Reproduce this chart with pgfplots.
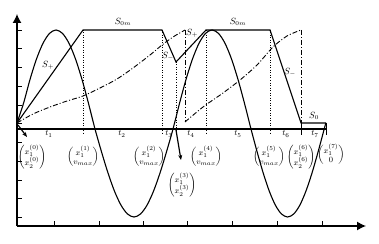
\documentclass[border=0pt]{standalone}
\usepackage{amsmath}
\usepackage{pgfplots}
\pgfplotsset{compat=1.18}
\usetikzlibrary{arrows.meta}
\tikzset{
  dd/.style={black, line width=0.9pt, dash pattern=on 5pt off 2pt on 1pt off 2pt},
  dt/.style={black, line width=1pt, dash pattern=on 1pt off 1.5pt},
  sl/.style={black, line width=1.1pt},
  every node/.style={inner sep=0.5pt},
}
\newcommand{\mat}[2]{\footnotesize$\setlength{\arraycolsep}{0.5pt}\begin{pmatrix}#1\\#2\end{pmatrix}$}
\begin{document}
\begin{tikzpicture}
\begin{axis}[width=379pt, height=243pt, scale only axis,
  xmin=0, xmax=379, ymin=0, ymax=243, y dir=reverse,
  hide axis, clip=false]
\addplot[draw=none] coordinates {(0,0) (379,243)};
% axes
\addplot[black, line width=1.2pt, -{Latex[length=9pt,width=9pt]}] coordinates {(17,226) (17,14)};
\addplot[black, line width=1.2pt, -{Latex[length=9pt,width=9pt]}] coordinates {(17,226) (366,226)};
\addplot[black, line width=1.1pt] coordinates {(17,129) (327,129)};
% y ticks
\foreach \yy in {30,48.75,67.5,86.25,105,123.75,142.5,161.25,180,198.75,217.5} {
  \edef\tmp{\noexpand\addplot[black, line width=0.9pt] coordinates {(17,\yy) (22,\yy)};}\tmp
}
% x ticks
\foreach \xx in {54,99,143,187,232,277,322} {
  \edef\tmp{\noexpand\addplot[black, line width=0.9pt] coordinates {(\xx,226) (\xx,221)};}\tmp
}
% trajectory S+, S0m, S-, S0
\addplot[sl] coordinates {(17,123) (83,30) (162,30) (176,62) (206,30) (270,30) (301,123) (326,123)};
% sine-like solid curve
\addplot[sl, smooth] coordinates {
 (17,123) (23.5,103.4) (30,79.5) (36.5,59.0) (43,43.3) (49.5,33.4) (56,30) (62.5,33.4) (69,43.3) (75.5,59.0) (82,79.5) (88.5,103.4) (95,129)
 (101.5,151.8) (108,173) (114.5,191.2) (121,205.2) (127.5,214) (134,217) (140.5,214) (147,205.2) (153.5,191.2) (160,173) (166.5,151.8) (173,129)
 (179.5,103.4) (186,79.5) (192.5,59.0) (199,43.3) (205.5,33.4) (212,30) (218.5,33.4) (225,43.3) (231.5,59.0) (238,79.5) (244.5,103.4) (251,129)
 (257.1,151.8) (263.2,173) (269.3,191.2) (275.4,205.2) (281.5,214) (287.6,217) (293.7,214) (299.8,205.2) (305.9,191.2) (312,173) (318.1,151.8) (324.2,129) (325.8,123)};
% dash-dot curves
\addplot[dd, smooth] coordinates {(17,123) (33,114) (50,107) (67,101) (83,96) (100,88) (117,79) (133,68) (150,55) (162,45) (173,37) (185,30)};
\addplot[dd] coordinates {(185,30) (185,122)};
\addplot[dd, smooth] coordinates {(185,122) (203,107) (223,93) (240,80) (257,65) (273,47) (287,36) (301,30)};
\addplot[dd] coordinates {(301,30) (301,123)};
% dotted verticals
\addplot[dt] coordinates {(83,30) (83,135)};
\addplot[dt] coordinates {(162,30) (162,135)};
\addplot[dt] coordinates {(176,62) (176,130)};
\addplot[dt] coordinates {(206,30) (206,135)};
\addplot[dt] coordinates {(270,30) (270,135)};
\addplot[sl, line width=0.9pt] coordinates {(301,123) (301,135)};
\addplot[sl, line width=0.9pt] coordinates {(326,123) (326,135)};
% arrows
\addplot[black, line width=1.2pt, -{Stealth[length=5pt,width=4pt]}] coordinates {(18,125) (27,137)};
\addplot[black, line width=1.2pt, -{Stealth[length=5pt,width=4pt]}] coordinates {(176,130) (181,160)};
% labels
\node at (axis cs:48,65) {\small $S_+$};
\node at (axis cs:123,22) {\small $S_{0m}$};
\node at (axis cs:168,56) {\small $S_-$};
\node at (axis cs:192,33) {\small $S_+$};
\node at (axis cs:238,22) {\small $S_{0m}$};
\node at (axis cs:290,72) {\small $S_-$};
\node at (axis cs:314,116) {\small $S_0$};
\node at (axis cs:49,134) {\footnotesize $t_1$};
\node at (axis cs:122,134) {\footnotesize $t_2$};
\node at (axis cs:169,134) {\footnotesize $t_3$};
\node at (axis cs:191,134) {\footnotesize $t_4$};
\node at (axis cs:238,134) {\footnotesize $t_5$};
\node at (axis cs:286,134) {\footnotesize $t_6$};
\node at (axis cs:315,134) {\footnotesize $t_7$};
\node at (axis cs:32,157) {\mat{x_1^{(0)}}{x_2^{(0)}}};
\node at (axis cs:83,157) {\mat{x_1^{(1)}}{v_{max}}};
\node at (axis cs:149,157) {\mat{x_1^{(2)}}{v_{max}}};
\node at (axis cs:182,185) {\mat{x_1^{(3)}}{x_2^{(3)}}};
\node at (axis cs:206,157) {\mat{x_1^{(4)}}{v_{max}}};
\node at (axis cs:269,157) {\mat{x_1^{(5)}}{v_{max}}};
\node at (axis cs:301,157) {\mat{x_1^{(6)}}{x_2^{(6)}}};
\node at (axis cs:331,155) {\mat{x_1^{(7)}}{0}};
\end{axis}
\end{tikzpicture}
\end{document}
